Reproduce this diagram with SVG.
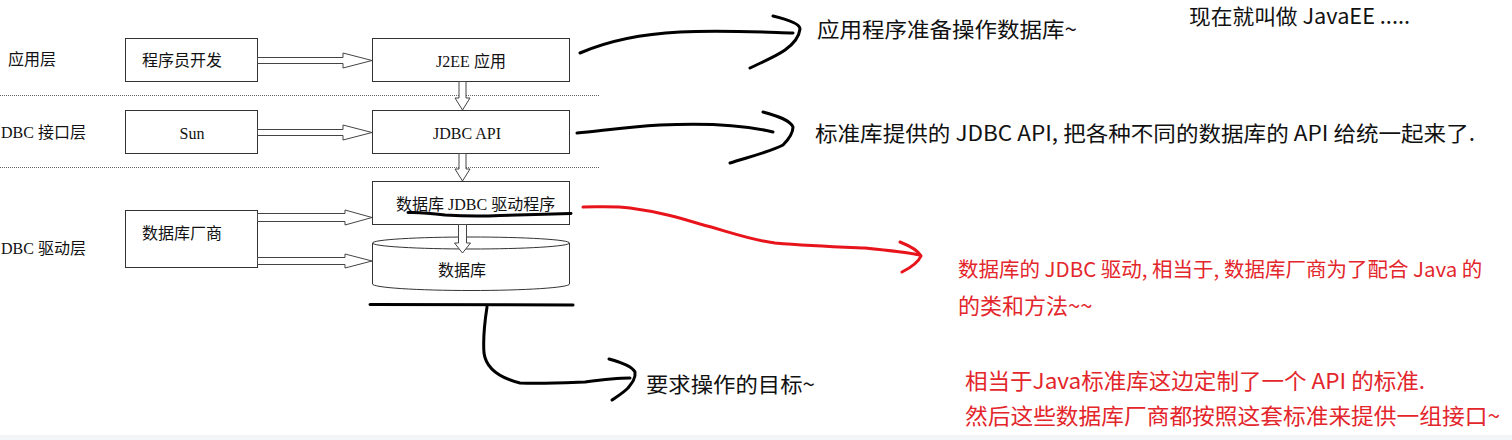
<svg xmlns="http://www.w3.org/2000/svg" width="1512" height="440" viewBox="0 0 1512 440">
<style>
.box{fill:#fff;stroke:#333;stroke-width:1}
.lbl{font-family:"Liberation Serif","Noto Sans CJK SC",serif;font-size:16px;fill:#111}
.arr{fill:#fff;stroke:#444;stroke-width:1}
.dot{stroke:#666;stroke-width:1;stroke-dasharray:1 1;fill:none}
.hand{fill:none;stroke:#000;stroke-width:3;stroke-linecap:round;stroke-linejoin:round}
.handr{fill:none;stroke:#e8141b;stroke-width:3;stroke-linecap:round;stroke-linejoin:round}
.note{font-family:"Noto Sans CJK SC","Noto Sans",sans-serif;font-size:21px;fill:#111}
.noter{font-family:"Noto Sans CJK SC","Noto Sans",sans-serif;font-size:22px;fill:#e3262b}
</style>
<rect width="1512" height="440" fill="#fff"/>
<rect x="0" y="435" width="1512" height="5" fill="#f4f5f7"/>

<g id="layers">
<text class="lbl" x="8" y="65">应用层</text>
<text class="lbl" x="1" y="138">DBC 接口层</text>
<text class="lbl" x="1" y="254">DBC 驱动层</text>
<line class="dot" x1="0" y1="95.5" x2="600" y2="95.5"/>
<line class="dot" x1="0" y1="167.5" x2="600" y2="167.5"/>
</g>

<g id="dev"><rect class="box" x="125.5" y="38.5" width="132" height="43"/><text class="lbl" x="142" y="66">程序员开发</text></g>
<g id="j2ee"><rect class="box" x="372.5" y="38.5" width="197" height="43"/><text class="lbl" x="471" y="67" text-anchor="middle">J2EE 应用</text></g>
<g id="sun"><rect class="box" x="125.5" y="110.5" width="132" height="43"/><text class="lbl" x="192" y="139" text-anchor="middle">Sun</text></g>
<g id="jdbcapi"><rect class="box" x="372.5" y="110.5" width="197" height="43"/><text class="lbl" x="467" y="139" text-anchor="middle">JDBC API</text></g>
<g id="vendor"><rect class="box" x="125.5" y="210.5" width="132" height="57"/><text class="lbl" x="142" y="239">数据库厂商</text></g>
<g id="driver"><rect class="box" x="372.5" y="181.5" width="197" height="43"/><text class="lbl" x="396" y="210">数据库 JDBC 驱动程序</text></g>
<g id="db">
<path class="box" d="M372.5,243 L372.5,284 A98.5,6.5 0 0 0 569.5,284 L569.5,243"/>
<ellipse class="box" cx="471" cy="243" rx="98.5" ry="6"/>
<text class="lbl" x="438" y="276">数据库</text>
</g>

<g id="connectors">
<polygon class="arr" points="257.5,57.5 343,57.5 343,53 372,60.5 343,68 343,63.5 257.5,63.5"/>
<polygon class="arr" points="257.5,129.5 343,129.5 343,125 372,132.5 343,140 343,135.5 257.5,135.5"/>
<polygon class="arr" points="257.5,213.5 345,213.5 345,210 372,217.5 345,225 345,221.5 257.5,221.5"/>
<polygon class="arr" points="257.5,257.5 345,257.5 345,254 372,261 345,268 345,264.5 257.5,264.5"/>
<polygon class="arr" points="459,81.5 459,98 455,98 462.5,110 470,98 466,98 466,81.5"/>
<polygon class="arr" points="459,153.5 459,169 455,169 462.5,181 470,169 466,169 466,153.5"/>
<polygon class="arr" points="458.5,224.5 458.5,243 454.5,243 462.5,253 470.5,243 466.5,243 466.5,224.5"/>

<path class="hand" d="M580,53 C610,40 640,34 680,32 C720,30 760,32 793,33"/>
<path class="hand" d="M773,16 C790,20 800,24 800,29 C799,38 792,45 785,50 C775,57 760,63 750,68"/>
<path class="hand" d="M577,133 C600,131 625,127 660,125 C700,123 740,124 773,132"/>
<path class="hand" d="M763,112 C778,116 790,120 793,127 C793,134 789,139 783,145 C770,152 745,158 730,163"/>
<path class="hand" stroke-width="2" d="M408,212.5 C420,212 430,213 445,215 C460,216 480,216.5 500,215.5 C530,214.5 555,214 571,213.5"/>
<path class="hand" stroke-width="2.5" d="M370,304.5 L573,305"/>
<path class="hand" d="M487,307 C485,320 483,340 484,353 C486,368 500,378 520,383 C540,384 560,383 585,382 C600,380 615,378 630,378"/>
<path class="hand" d="M609,359 C620,362 632,366 635,372 C636,378 632,383 628,388 C622,394 616,397 612,400"/>
<path class="handr" d="M583,207 C600,207 615,206 630,208 C660,212 680,218 700,224 C730,232 750,240 775,243 C810,246 840,247 865,248 C885,250 905,252 920,255"/>
<path class="handr" d="M900,242 C910,246 918,250 921,256 C918,263 910,268 902,272"/>
</g>

<g id="notes">
<text class="note" x="817" y="37" textLength="260" lengthAdjust="spacingAndGlyphs">应用程序准备操作数据库~</text>
<text class="note" x="1189" y="24" textLength="221" lengthAdjust="spacingAndGlyphs">现在就叫做 JavaEE .....</text>
<text class="note" x="815" y="141" textLength="660" lengthAdjust="spacingAndGlyphs">标准库提供的 JDBC API, 把各种不同的数据库的 API 给统一起来了.</text>
<text class="note" x="646" y="392" textLength="169" lengthAdjust="spacingAndGlyphs">要求操作的目标~</text>
<text class="noter" x="958" y="277" style="font-size:20.5px">数据库的 JDBC 驱动, 相当于, 数据库厂商为了配合 Java 的</text>
<text class="noter" x="958" y="314">的类和方法~~</text>
<text class="noter" x="965" y="389" textLength="460" lengthAdjust="spacingAndGlyphs">相当于Java标准库这边定制了一个 API 的标准.</text>
<text class="noter" x="965" y="424" textLength="535" lengthAdjust="spacingAndGlyphs">然后这些数据库厂商都按照这套标准来提供一组接口~</text>
</g>
</svg>
